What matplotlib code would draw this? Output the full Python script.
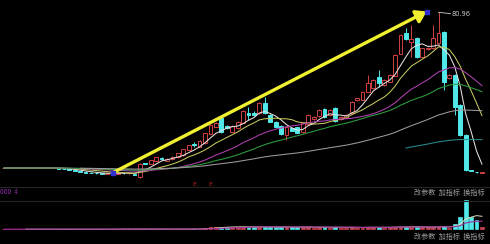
import matplotlib
matplotlib.use("Agg")
import matplotlib.pyplot as plt
from matplotlib.lines import Line2D
import numpy as np
import pandas as pd

plt.rcParams['font.family'] = ['Noto Sans CJK SC', 'DejaVu Sans']

# ---------------- data ----------------
# closes before the visible window (flat period, only feeds the long averages)
hidden_close = [11.9, 11.9, 11.9, 11.9, 11.9, 11.9, 11.9, 11.9, 11.9, 11.9,
                11.9, 11.9, 11.9, 11.9, 11.9, 11.9, 11.9, 11.9, 11.9, 11.9,
                11.9, 11.9, 11.9, 11.9, 11.9, 11.9, 11.9, 11.9, 11.9, 11.9,
                11.9, 11.9, 11.9, 11.9, 11.9, 11.9, 11.9, 11.9, 11.9, 11.9,
                11.9, 11.9, 11.9, 11.9, 11.9]

opens = [11.9, 11.9, 11.9, 11.9, 11.9, 11.9, 11.9, 11.9, 11.9, 11.9,
         11.8, 11.6, 11.4, 11.0, 10.6, 10.2, 9.9, 9.7, 9.5, 9.4,
         9.55, 9.3, 9.8, 9.5, 9.4, 8.1, 14.0, 13.7, 14.9, 16.4,
         15.2, 15.8, 16.6, 17.5, 19.9, 22.5, 21.4, 22.9, 27.0, 30.2,
         33.9, 30.5, 27.9, 29.5, 32.0, 36.2, 36.5, 36.2, 40.6, 35.4,
         32.5, 30.5, 26.6, 29.5, 29.9, 27.7, 31.4, 33.5, 34.9, 37.9,
         35.4, 38.4, 33.6, 34.3, 36.2, 42.1, 42.1, 45.8, 47.2, 52.1,
         48.6, 50.2, 52.7, 62.5, 71.9, 68.0, 69.4, 61.3, 64.5, 65.0,
         67.2, 72.4, 51.7, 53.2, 39.9, 26.5, 10.9, 10.2, 9.8]
highs = [11.9, 11.9, 11.9, 11.9, 11.9, 11.9, 11.9, 11.9, 11.9, 11.9,
         11.9, 11.7, 11.5, 11.2, 10.8, 10.4, 10.1, 9.9, 9.7, 9.6,
         10.3, 9.9, 9.9, 9.8, 9.6, 14.3, 14.3, 15.5, 16.8, 16.8,
         16.3, 17.1, 18.6, 20.4, 22.2, 23.6, 24.3, 27.5, 31.3, 32.3,
         34.4, 30.9, 30.8, 32.8, 37.6, 38.8, 37.0, 41.0, 43.5, 35.8,
         32.9, 30.8, 30.5, 30.0, 30.2, 32.0, 35.8, 35.0, 38.0, 38.3,
         38.0, 38.8, 34.8, 35.7, 41.6, 43.1, 46.1, 53.2, 51.3, 55.4,
         51.2, 53.5, 62.4, 71.2, 73.9, 75.3, 69.8, 65.3, 65.6, 75.3,
         80.96, 72.8, 53.5, 53.5, 40.2, 26.8, 11.0, 10.3, 10.0]
lows = [11.9, 11.9, 11.9, 11.9, 11.9, 11.9, 11.9, 11.9, 11.9, 11.9,
        11.5, 11.3, 10.9, 10.5, 10.1, 9.8, 9.6, 9.4, 9.3, 9.2,
        9.3, 9.2, 9.3, 9.3, 8.8, 7.34, 13.5, 13.6, 14.8, 15.5,
        15.0, 15.6, 16.5, 17.4, 19.7, 21.4, 21.2, 22.7, 26.8, 30.0,
        27.6, 29.2, 27.7, 29.3, 31.8, 33.2, 35.0, 36.0, 35.9, 32.2,
        29.7, 26.6, 24.3, 28.2, 27.3, 27.5, 31.2, 33.2, 34.7, 34.0,
        35.0, 32.5, 33.3, 34.0, 36.0, 41.8, 41.9, 45.5, 47.0, 47.7,
        48.3, 50.0, 52.5, 62.3, 68.7, 61.3, 60.7, 61.0, 64.2, 64.8,
        67.0, 46.5, 51.4, 35.4, 26.3, 10.8, 10.5, 9.9, 9.7]
closes = [11.9, 11.9, 11.9, 11.9, 11.9, 11.9, 11.9, 11.9, 11.9, 11.9,
          11.6, 11.4, 11.0, 10.6, 10.2, 9.9, 9.7, 9.5, 9.4, 9.5,
          10.0, 9.8, 9.5, 9.6, 9.0, 13.7, 13.8, 15.3, 16.6, 15.9,
          16.1, 16.9, 18.4, 20.2, 22.0, 22.0, 24.0, 27.3, 31.0, 32.0,
          28.0, 29.5, 30.5, 32.5, 37.3, 35.5, 35.5, 40.6, 36.2, 32.5,
          30.0, 27.0, 30.2, 28.5, 27.6, 31.7, 35.4, 34.7, 37.6, 34.4,
          37.6, 32.9, 34.4, 35.4, 41.3, 42.8, 45.8, 49.5, 51.0, 49.8,
          50.9, 53.2, 62.0, 70.9, 69.0, 68.9, 61.0, 65.0, 65.3, 69.4,
          71.6, 50.2, 53.2, 39.1, 26.5, 11.0, 10.7, 10.0, 9.9]
volumes = [0.1, 0.1, 0.1, 0.1, 0.1, 0.1, 0.1, 0.1, 0.1, 0.1,
           0.1, 0.1, 0.1, 0.1, 0.1, 0.1, 0.1, 0.1, 0.1, 0.1,
           0.2, 0.2, 0.2, 0.2, 0.2, 0.3, 0.2, 0.2, 0.2, 0.2,
           0.2, 0.2, 0.2, 0.3, 0.3, 0.3, 0.4, 1.2, 2.0, 2.2,
           2.8, 2.0, 2.4, 2.6, 2.8, 2.2, 2.0, 2.6, 2.8, 2.2,
           2.0, 2.4, 2.6, 2.0, 2.2, 2.6, 2.2, 1.8, 2.0, 2.2,
           1.8, 2.4, 1.6, 1.8, 2.4, 1.6, 1.8, 2.2, 2.0, 2.2,
           1.8, 2.0, 2.6, 2.8, 2.4, 2.2, 2.6, 2.0, 2.2, 2.4,
           2.6, 3.6, 1.5, 5.3, 12.0, 29.0, 12.7, 9.3, 2.0]

ma_periods = [5, 10, 20, 30, 60, 120]
ma_colors = ['#e8e0e0', '#c8c860', '#b040b0', '#30a040', '#a09a9a', '#2a8c8c']

peak_label = '80.96'
arrow_start = (20, 9.8)
arrow_end = (77.8, 81.3)
event_idx = [35, 38]
menu_text = '改参数  加指标  换指标'
vol_label = '000 ‡'

# ---------------- figure ----------------
W, H = 490, 244
fig = plt.figure(figsize=(W / 100, H / 100), dpi=100, facecolor='black')

def px_axes(top, bottom):
    return fig.add_axes([0, 1 - bottom / H, 1, (bottom - top) / H])

ax = px_axes(0, 187)
axv = px_axes(200, 231)
for a in (ax, axv):
    a.set_facecolor('black')
    a.set_axis_off()

n = len(closes)
x = np.arange(n)
up_col = '#d04040'
dn_col = '#50e8e8'
w = 0.7

all_close = pd.Series(hidden_close + closes)
nh = len(hidden_close)

for i in range(n):
    o, h, l, c = opens[i], highs[i], lows[i], closes[i]
    up = c >= o
    col = up_col if up else dn_col
    ax.vlines(x[i], l, min(o, c), color=col, lw=0.7)
    ax.vlines(x[i], max(o, c), h, color=col, lw=0.7)
    body = max(abs(c - o), 0.12)
    ax.bar(x[i], body, bottom=min(o, c), width=w,
           facecolor='black' if up else col, edgecolor=col, lw=0.7)

for p, col in zip(ma_periods, ma_colors):
    ma = all_close.rolling(p).mean().to_numpy()[nh:]
    ax.plot(x, ma, color=col, lw=0.75)

# arrow drawn on the chart
ax.annotate('', xy=arrow_end, xytext=arrow_start,
            arrowprops=dict(arrowstyle='-|>,head_length=0.6,head_width=0.4',
                            color='#f0f030', lw=2.4, shrinkA=0, shrinkB=0))
ax.scatter([arrow_start[0], arrow_end[0]], [arrow_start[1], arrow_end[1]],
           marker='s', s=7, color='#3030d0', zorder=5)

# peak label
ipk = int(np.argmax(highs))
ax.plot([x[ipk], x[ipk] + 2.2], [highs[ipk], highs[ipk] - 0.6], color='#d0d0d0', lw=0.6)
ax.text(x[ipk] + 2.3, highs[ipk] - 0.6, peak_label, color='#c8c8c8',
        fontsize=4.8, va='center', ha='left', family='DejaVu Sans')

# event markers
for e in event_idx:
    ax.text(x[e], 4.6, 'E', color='#c02020', fontsize=4.5, ha='center', va='center',
            family='DejaVu Sans')

ax.set_xlim(-0.755, 89.48)
ax.set_ylim(3.49, 86.41)

# volume
for i in range(n):
    up = closes[i] >= opens[i]
    col = up_col if up else dn_col
    axv.bar(x[i], volumes[i], width=w, facecolor=col if not up else '#c04a6a',
            edgecolor=col, lw=0.5)
vs = pd.Series(volumes)
axv.plot(x, vs.rolling(5).mean(), color='#e0e0b0', lw=0.7)
axv.plot(x, vs.rolling(10, min_periods=1).mean(), color='#a030a0', lw=0.8)
axv.set_xlim(-0.755, 89.48)
axv.set_ylim(-1.7, 29.3)

# separators and texts
for yy in (187, 201):
    fig.add_artist(Line2D([0, 1], [1 - yy / H, 1 - yy / H], color='#262626', lw=0.8))
fig.text(0.0, 1 - 192 / H, vol_label, color='#9030b0', fontsize=4.8, va='center', ha='left')
fig.text(0.99, 1 - 192.5 / H, menu_text, color='#9a9a9a', fontsize=5.1, va='center', ha='right')
fig.text(0.99, 1 - 237 / H, menu_text, color='#9a9a9a', fontsize=5.1, va='center', ha='right')

fig.savefig('out.png', dpi=100, facecolor='black')
